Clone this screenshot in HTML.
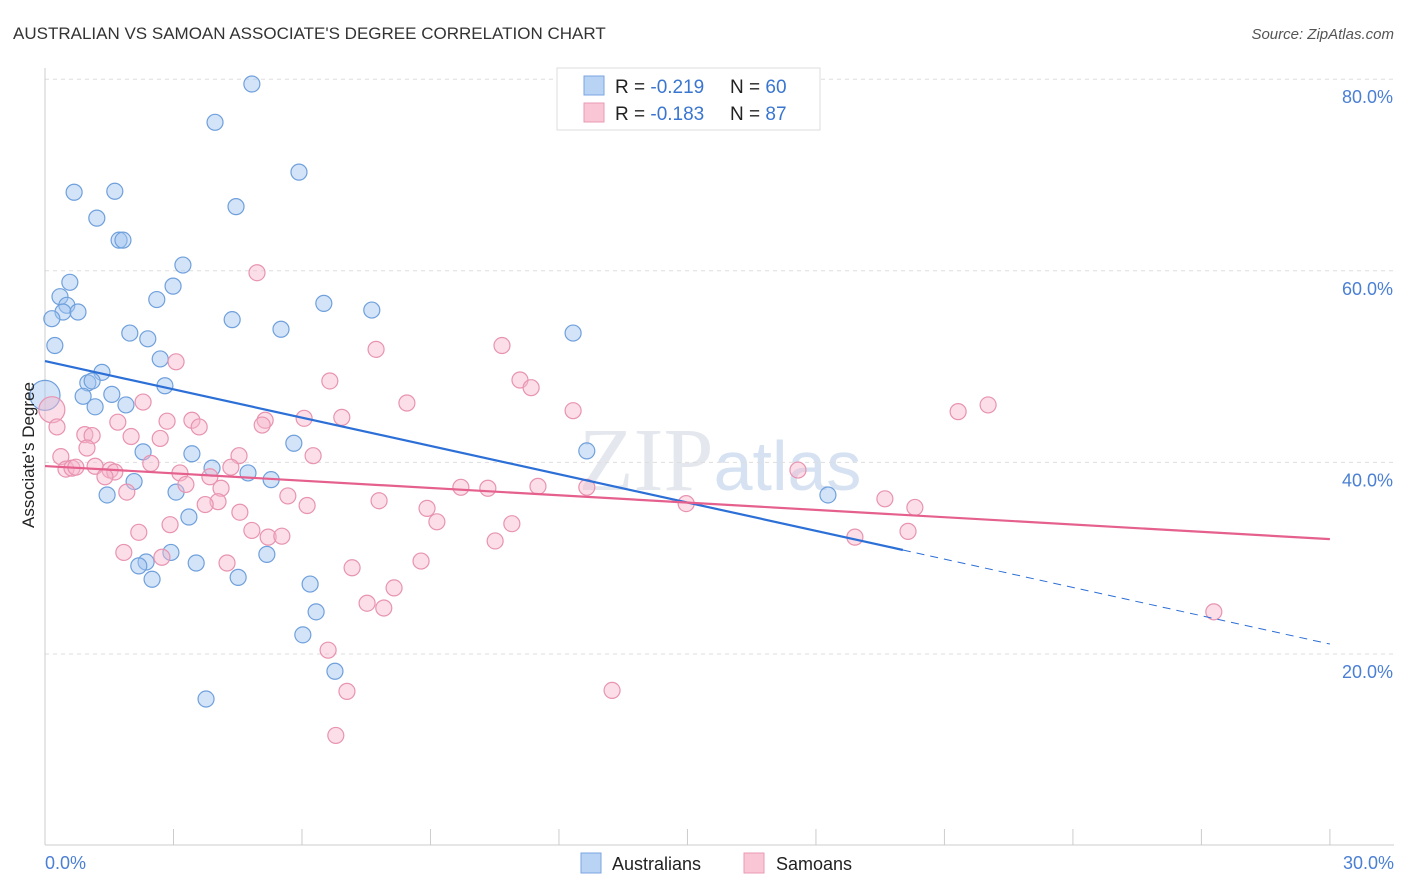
<!DOCTYPE html>
<html><head><meta charset="utf-8"><style>
body{margin:0;background:#fff;font-family:"Liberation Sans",sans-serif}
svg{display:block}
</style></head><body>
<svg id="chart" width="1406" height="892" xmlns="http://www.w3.org/2000/svg" font-family="Liberation Sans, sans-serif">
<text x="13" y="39" font-size="17" fill="#333">AUSTRALIAN VS SAMOAN ASSOCIATE'S DEGREE CORRELATION CHART</text>
<text x="1394" y="39" font-size="15" fill="#555" font-style="italic" text-anchor="end">Source: ZipAtlas.com</text>
<text x="720" y="490" font-size="90" fill="#e4e8ee" text-anchor="middle" font-family="Liberation Serif, serif">ZIP<tspan fill="#d6e2f2" font-family="Liberation Sans, sans-serif" font-size="70">atlas</tspan></text>
<g id="grid"></g>
<g id="axes"></g>
<g id="pts"></g>
<g id="trend"></g>
<text transform="translate(34,455) rotate(-90)" font-size="17" fill="#222" text-anchor="middle">Associate's Degree</text>
<text x="45" y="869" font-size="18" fill="#4a7fd4">0.0%</text>
<text x="1394" y="869" font-size="18" fill="#4a7fd4" text-anchor="end">30.0%</text>
<g>
<rect x="557" y="68" width="263" height="62" fill="#fff" stroke="#ddd"/>
<rect x="584" y="76" width="20" height="19" fill="#b9d3f5" stroke="#7aa6e0"/>
<rect x="584" y="103" width="20" height="19" fill="#f9c6d5" stroke="#eb9ab4"/>
<text x="615" y="93" font-size="19" fill="#222">R = <tspan fill="#3a76d0">-0.219</tspan><tspan x="730">N = </tspan><tspan fill="#3a76d0">60</tspan></text>
<text x="615" y="120" font-size="19" fill="#222">R = <tspan fill="#3a76d0">-0.183</tspan><tspan x="730">N = </tspan><tspan fill="#3a76d0"> 87</tspan></text>
</g>
<g>
<rect x="581" y="853" width="20" height="20" fill="#b9d3f5" stroke="#7aa6e0"/>
<text x="612" y="870" font-size="18" fill="#222">Australians</text>
<rect x="744" y="853" width="20" height="20" fill="#f9c6d5" stroke="#eb9ab4"/>
<text x="776" y="870" font-size="18" fill="#222">Samoans</text>
</g>
</svg>
<script>
const yTicks=[20,40,60,80];
const yTickLabels=["20.0%","40.0%","60.0%","80.0%"];
const xTicks=[0,3,6,9,12,15,18,21,24,27,30];
const ausX=[4.83,3.97,0.68,1.63,4.46,5.93,1.21,1.73,1.82,3.22,0.58,2.99,0.35,2.61,0.51,0.42,0.77,0.16,6.51,7.63,4.37,5.51,1.98,2.40,12.33,0.23,2.69,1.33,1.00,1.10,2.80,1.56,0.89,1.17,1.89,0.0,5.81,2.29,3.43,12.65,3.90,4.74,5.28,2.08,1.45,3.06,18.28,3.36,2.94,5.18,2.36,2.19,3.53,2.50,4.51,6.19,6.33,6.02,6.77,3.76];
const ausY=[79.5,75.5,68.2,68.3,66.7,70.3,65.5,63.2,63.2,60.6,58.8,58.4,57.3,57.0,56.4,55.7,55.7,55.0,56.6,55.9,54.9,53.9,53.5,52.9,53.5,52.2,50.8,49.4,48.3,48.5,48.0,47.1,46.9,45.8,46.0,47.0,42.0,41.1,40.9,41.2,39.4,38.9,38.2,38.0,36.6,36.9,36.6,34.3,30.6,30.4,29.6,29.2,29.5,27.8,28.0,27.3,24.4,22.0,18.2,15.3];
const samX=[4.95,3.06,10.67,7.73,6.65,11.09,11.35,8.45,12.33,22.02,21.32,0.16,0.28,2.29,3.43,5.14,6.05,6.93,2.85,1.70,0.93,1.10,2.01,2.69,3.60,5.07,4.53,6.26,0.98,0.37,0.49,0.63,0.72,1.17,1.52,1.63,1.40,2.47,3.15,3.85,4.34,3.29,4.11,9.71,10.34,11.51,12.65,17.58,1.91,5.67,7.80,4.04,3.74,6.12,8.92,4.55,14.97,19.61,20.31,9.15,10.90,2.92,2.19,4.83,5.21,5.53,10.51,20.15,18.91,1.84,2.73,4.25,8.78,7.17,8.15,7.52,7.91,27.29,6.61,7.05,13.24,6.79];
const samY=[59.8,50.5,52.2,51.8,48.5,48.6,47.8,46.2,45.4,46.0,45.3,45.5,43.7,46.3,44.4,44.4,44.6,44.7,44.3,44.2,42.9,42.8,42.7,42.5,43.7,43.9,40.7,40.7,41.5,40.6,39.3,39.4,39.5,39.6,39.2,39.0,38.5,39.9,38.9,38.5,39.5,37.7,37.3,37.4,37.3,37.5,37.4,39.2,36.9,36.5,36.0,35.9,35.6,35.5,35.2,34.8,35.7,36.2,35.3,33.8,33.6,33.5,32.7,32.9,32.2,32.3,31.8,32.8,32.2,30.6,30.1,29.5,29.7,29.0,26.9,25.3,24.8,24.4,20.4,16.1,16.2,11.5];
const ausTrend=[50.58,21.04]; const ausSolidEnd=20.03;
const samTrend=[39.62,31.99];
const NS="http://www.w3.org/2000/svg";
const sx=v=>45+v*42.83;
const sy=v=>654-(v-20)*9.58;
function mk(tag,attrs,parent){const e=document.createElementNS(NS,tag);for(const k in attrs)e.setAttribute(k,attrs[k]);parent.appendChild(e);return e;}
const grid=document.getElementById('grid'),axes=document.getElementById('axes'),pts=document.getElementById('pts'),trend=document.getElementById('trend');
yTicks.forEach((t,i)=>{
 const l=mk('line',{x1:45,x2:1394,y1:sy(t),y2:sy(t),stroke:'#ddd','stroke-dasharray':'4 4'},grid);
 
 
 const tx=mk('text',{x:1393,y:sy(t)+24,'font-size':18,fill:'#4a7fd4','text-anchor':'end'},grid);
 tx.textContent=yTickLabels[i];
 
 
});
const ya=mk('line',{x1:45,x2:45,y1:68,y2:845,stroke:'#ccc'},axes);


const xa=mk('line',{x1:45,x2:1394,y1:845,y2:845,stroke:'#ccc'},axes);


xTicks.forEach(t=>{
 const l=mk('line',{x1:sx(t),x2:sx(t),y1:829,y2:845,stroke:'#ccc'},axes);
 
 
});
ausX.forEach((x,i)=>{
 const c=mk('circle',{cx:sx(x),cy:sy(ausY[i]),r:x===0?15:8,fill:'rgba(160,196,240,0.45)',stroke:'#6fa0dc','stroke-width':1.2},pts);
 
 
});
samX.forEach((x,i)=>{
 const c=mk('circle',{cx:sx(x),cy:sy(samY[i]),r:i===11?13:8,fill:'rgba(247,182,203,0.45)',stroke:'#e893b0','stroke-width':1.2},pts);
 
 
});
const ay=x=>ausTrend[0]+(ausTrend[1]-ausTrend[0])*x/30;
const t1=mk('line',{x1:sx(0),y1:sy(ay(0)),x2:sx(ausSolidEnd),y2:sy(ay(ausSolidEnd)),stroke:'#2c6fd6','stroke-width':2.2},trend);


const t2=mk('line',{x1:sx(ausSolidEnd),y1:sy(ay(ausSolidEnd)),x2:sx(30),y2:sy(ay(30)),stroke:'#2c6fd6','stroke-width':1,'stroke-dasharray':'8 6'},trend);


const t3=mk('line',{x1:sx(0),y1:sy(samTrend[0]),x2:sx(30),y2:sy(samTrend[1]),stroke:'#e5608d','stroke-width':2.2},trend);


</script>
</body></html>
